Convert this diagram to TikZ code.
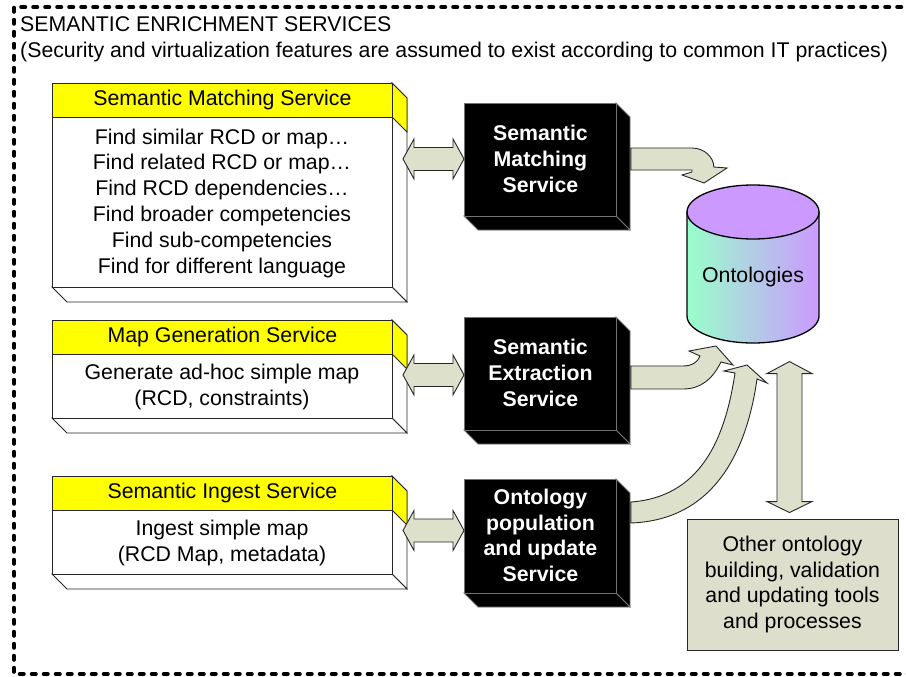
\documentclass[tikz,border=0pt]{standalone}
\usepackage{fontspec}
\setmainfont{Liberation Sans}
\usetikzlibrary{calc}

\definecolor{hdryellow}{RGB}{255,255,0}
\definecolor{arrowfill}{RGB}{221,224,203}
\definecolor{toolfill}{RGB}{221,223,204}
\definecolor{lilac}{RGB}{204,153,255}
\definecolor{mint}{RGB}{153,255,204}
\definecolor{edgegray}{RGB}{115,115,115}

% service box with yellow header: #1 name, #2 top, #3 header bottom, #4 bottom, #5 title, #6 body
\newcommand\svcbox[6]{%
  \draw[face, fill=white] (392,#2) -- (407,#2+15) -- (407,#4+15) -- (392,#4) -- cycle;
  \draw[face, fill=hdryellow] (392,#2) -- (407,#2+15) -- (407,#3+15) -- (392,#3) -- cycle;
  \draw[face, fill=white] (52,#4) -- (392,#4) -- (407,#4+15) -- (67,#4+15) -- cycle;
  \node[face, fill=white, minimum width=340, minimum height=#4-#2, anchor=north west, inner sep=0pt] (#1) at (52,#2) {};
  \node[face, fill=hdryellow, minimum width=340, minimum height=#3-#2, anchor=north west, inner sep=0pt] (#1-head) at (52,#2) {};
  \node[txt] (#1-title) at (#1-head.center) {#5};
  \node[txt] (#1-body) at (222,{(#3+#4)/2+1}) {#6};
}

% black 3D block: #1 name, #2 top, #3 bottom, #4 label
\newcommand\darkbox[4]{%
  \draw[darkface] (616,#2) -- (630,#2+14) -- (630,#3+14) -- (616,#3) -- cycle;
  \draw[darkface] (464,#3) -- (616,#3) -- (630,#3+14) -- (478,#3+14) -- cycle;
  \node[darkface, minimum width=152, minimum height=#3-#2, anchor=north west, inner sep=0pt] (#1) at (464,#2) {};
  \node[btxt] (#1-label) at ($(#1.center)+(0,-1)$) {#4};
}

% horizontal two-headed block arrow between two tips at the same height
\newcommand\hdarrow[2]{%
  \draw[blockarrow] (#1) -- ++(11,-20) -- ++(0,8.5) -- ($(#2)+(-11,-11.5)$) -- ++(0,-8.5)
    -- (#2) -- ++(-11,20) -- ++(0,-8.5) -- ($(#1)+(11,11.5)$) -- ++(0,8.5) -- cycle;
}

\begin{document}
\begin{tikzpicture}[x=1pt,y=-1pt,
  txt/.style={font=\fontsize{21.3}{25.8}\selectfont, align=center, inner sep=0pt},
  btxt/.style={font=\fontsize{21.3}{25.8}\selectfont\bfseries, align=center, inner sep=0pt, text=white},
  face/.style={draw=black!85, line width=0.9pt},
  darkface/.style={fill=black, draw=edgegray, line width=0.9pt},
  blockarrow/.style={fill=arrowfill, draw=black!85, line width=0.9pt, line join=miter},
  frame/.style={line width=4.6pt, dash pattern=on 3.5pt off 8.5pt, line cap=round},
]
\useasboundingbox (0,0) rectangle (906,677);

% dashed service boundary
\draw[frame] (925,7) -- (14,7) -- (14,674) -- (925,674);
\node[anchor=base west, inner sep=0pt, font=\fontsize{21.3}{25.8}\selectfont] (title) at (20,32) {SEMANTIC ENRICHMENT SERVICES};
\node[anchor=base west, inner sep=0pt, font=\fontsize{21.3}{25.8}\selectfont] (subtitle) at (20,58) {(Security and virtualization features are assumed to exist according to common IT practices)};

% interface boxes
\svcbox{match}{83}{117}{287}{Semantic Matching Service}%
  {Find similar RCD or map\dots\\Find related RCD or map\dots\\Find RCD dependencies\dots\\Find broader competencies\\Find sub-competencies\\Find for different language}
\svcbox{mapgen}{320}{354}{418}{Map Generation Service}%
  {Generate ad-hoc simple map\\(RCD, constraints)}
\svcbox{ingest}{476}{510}{574}{Semantic Ingest Service}%
  {Ingest simple map\\(RCD Map, metadata)}

% processing blocks
\darkbox{smatch}{103}{216}{Semantic\\Matching\\Service}
\darkbox{sextract}{317}{430}{Semantic\\Extraction\\Service}
\darkbox{opop}{479}{593}{Ontology\\population\\and update\\Service}

% links between interface boxes and blocks
\path ($(smatch.west)+(0,-1)$) coordinate (a1r) ($(a1r)+(-61,0)$) coordinate (a1l);
\path ($(sextract.west)+(0,1)$) coordinate (a2r) ($(a2r)+(-61,0)$) coordinate (a2l);
\path ($(opop.west)+(0,-6)$) coordinate (a3r) ($(a3r)+(-61,0)$) coordinate (a3l);
\hdarrow{a1l}{a1r}
\hdarrow{a2l}{a2r}
\hdarrow{a3l}{a3r}

% ontology store
\draw[line width=1.3pt, left color=mint, right color=lilac]
  (687,212) -- (687,316) .. controls (687,330.9) and (716.6,343) .. (753,343)
  .. controls (789.4,343) and (819,330.9) .. (819,316) -- (819,212) -- cycle;
\draw[line width=1.3pt, fill=lilac] (753,212) ellipse [x radius=66, y radius=27];
\node[txt] (ont) at (753,277) {Ontologies};

% bent arrows into the store
\path ($(smatch.north east)+(14,45)$) coordinate (b1s) (704,183) coordinate (b1t);
\draw[blockarrow] (b1s) -- (692,148) .. controls (704,148) and (713.8,157) .. (713.8,167)
  -- (727,168) -- (b1t) -- (682,175) -- (692,172) -- (692,170) -- ($(b1s)+(0,22)$) -- cycle;

\path ($(sextract.north east)+(14,49)$) coordinate (b2s) (716,346) coordinate (b2t);
\draw[blockarrow] (b2s) -- (683,366) .. controls (692,366) and (698,362) .. (700,356)
  -- (689,351) -- (b2t) -- (733,365) -- (721,362) .. controls (712,380) and (700,389) .. (683,389)
  -- ($(b2s)+(0,23)$) -- cycle;

\path ($(opop.north east)+(14,23)$) coordinate (b3s) (747,365) coordinate (b3t);
\draw[blockarrow] (b3s) .. controls (700,497) and (725,440) .. (735,373) -- (724,371) -- (b3t)
  -- (767,383) -- (757,379) .. controls (747,450) and (715,520) .. ($(b3s)+(0,21)$) -- cycle;

% other tools
\node[draw=black!85, fill=toolfill, line width=0.9pt, minimum width=211, minimum height=131, txt] (tools) at (792.5,584.5)
  {Other ontology\\building, validation\\and updating tools\\and processes};

\path ($(tools.north)+(-3,-6)$) coordinate (v1b) ($(v1b)+(0,-151)$) coordinate (v1t);
\draw[blockarrow] (v1t) -- ++(22.5,12) -- ++(-10,0) -- ($(v1b)+(12.5,-11)$) -- ++(10,0)
  -- (v1b) -- ++(-22.5,-11) -- ++(10,0) -- ($(v1t)+(-12.5,12)$) -- ++(-10,0) -- cycle;
\end{tikzpicture}
\end{document}
